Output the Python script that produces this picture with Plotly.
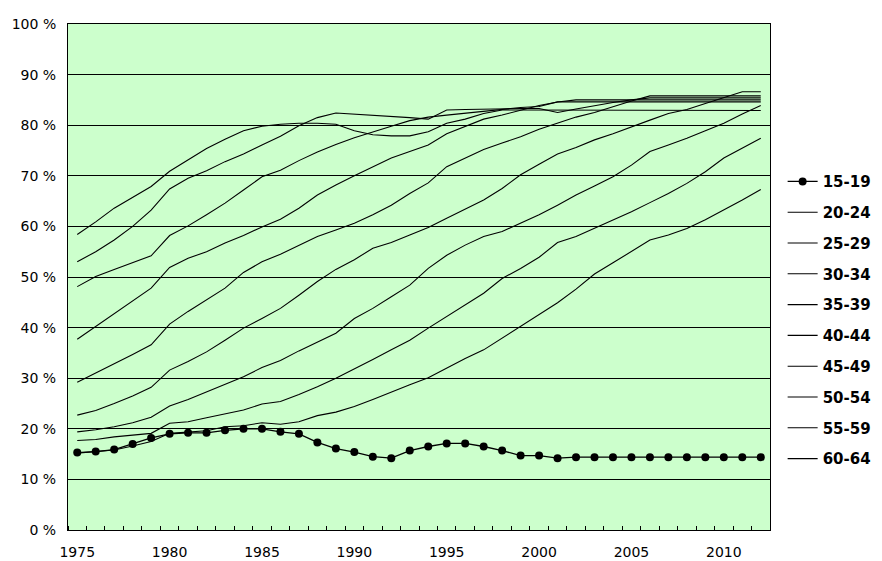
import plotly.graph_objects as go

years = list(range(1975, 2013))

s15_19 = [15.3, 15.5, 15.9, 17.0, 18.2, 19.0, 19.2, 19.2, 19.7, 20.0, 20.0, 19.4,
          19.0, 17.3, 16.1, 15.4, 14.5, 14.2, 15.7, 16.5, 17.1, 17.1, 16.5, 15.7,
          14.7, 14.7, 14.2, 14.4, 14.4, 14.4, 14.4, 14.4, 14.4, 14.4, 14.4, 14.4, 14.4, 14.4]
s20_24 = [58.4, 60.9, 63.6, 65.8, 67.9, 70.9, 73.1, 75.4, 77.2, 78.9, 79.8, 80.2,
          80.4, 80.4, 80.2, 78.9, 78.1, 77.9, 77.9, 78.7, 80.4, 81.2, 82.3, 83.0,
          83.0, 83.0, 82.9, 82.9, 82.9, 82.9, 82.9, 82.9, 82.9, 82.9, 82.9, 82.9, 82.9, 82.9]
s25_29 = [53.0, 55.0, 57.3, 60.0, 63.2, 67.4, 69.5, 71.0, 72.8, 74.3, 76.1, 77.8,
          79.9, 81.5, 82.4, 82.2, 82.0, 81.8, 81.5, 81.2, 83.0, 83.1, 83.2, 83.3,
          83.3, 83.3, 82.5, 83.2, 83.9, 84.5, 85.0, 85.4, 85.4, 85.4, 85.4, 85.4, 85.4, 85.4]
s30_34 = [48.1, 50.1, 51.5, 52.8, 54.2, 58.2, 60.1, 62.3, 64.6, 67.2, 69.8, 71.1,
          73.0, 74.7, 76.2, 77.5, 78.7, 79.8, 80.9, 81.6, 82.0, 82.4, 82.8, 83.2,
          83.5, 83.7, 84.6, 84.6, 84.6, 84.6, 84.6, 84.6, 84.6, 84.6, 84.6, 84.6, 84.6, 84.6]
s35_39 = [37.7, 40.2, 42.8, 45.3, 47.8, 51.9, 53.7, 55.0, 56.7, 58.2, 59.9, 61.4,
          63.6, 66.2, 68.2, 70.0, 71.8, 73.5, 74.8, 76.1, 78.3, 79.7, 81.2, 82.0,
          83.0, 83.9, 84.6, 85.0, 85.0, 85.0, 85.0, 85.0, 85.0, 85.0, 85.0, 85.0, 85.0, 85.0]
s40_44 = [29.2, 31.0, 32.9, 34.7, 36.6, 40.7, 43.2, 45.5, 47.8, 50.9, 53.0, 54.5,
          56.2, 58.0, 59.3, 60.6, 62.3, 64.2, 66.5, 68.6, 71.8, 73.5, 75.2, 76.5,
          77.7, 79.2, 80.4, 81.6, 82.5, 83.7, 84.8, 85.8, 85.8, 85.8, 85.8, 85.8, 85.8, 85.8]
s45_49 = [22.7, 23.6, 25.0, 26.5, 28.2, 31.6, 33.3, 35.2, 37.5, 39.9, 41.8, 43.8,
          46.4, 49.1, 51.5, 53.4, 55.7, 56.8, 58.3, 59.8, 61.6, 63.4, 65.2, 67.5,
          70.2, 72.3, 74.3, 75.6, 77.1, 78.3, 79.7, 81.0, 82.3, 83.1, 84.3, 85.5, 86.6, 86.6]
s50_54 = [19.4, 19.8, 20.4, 21.2, 22.3, 24.5, 25.8, 27.3, 28.7, 30.3, 32.1, 33.5,
          35.4, 37.2, 38.9, 41.8, 43.8, 46.1, 48.4, 51.7, 54.3, 56.3, 58.0, 59.0,
          60.6, 62.3, 64.2, 66.2, 68.0, 69.8, 72.1, 74.8, 76.1, 77.4, 78.9, 80.4, 82.2, 83.9]
s55_59 = [17.7, 17.9, 18.4, 18.8, 19.1, 21.1, 21.4, 22.2, 22.9, 23.7, 24.9, 25.4,
          26.8, 28.3, 30.0, 31.8, 33.7, 35.6, 37.5, 39.9, 42.2, 44.5, 46.8, 49.7,
          51.7, 53.9, 56.8, 58.0, 59.6, 61.3, 62.9, 64.7, 66.5, 68.5, 70.8, 73.5, 75.4, 77.4]
s60_64 = [15.2, 15.5, 15.8, 16.6, 17.5, 19.1, 19.4, 19.6, 20.4, 20.6, 21.2, 20.9,
          21.4, 22.6, 23.3, 24.4, 25.8, 27.3, 28.7, 30.1, 32.0, 33.9, 35.6, 37.9,
          40.3, 42.5, 44.9, 47.6, 50.6, 52.8, 55.0, 57.3, 58.3, 59.6, 61.3, 63.2, 65.2, 67.3]

series_names = ["15-19", "20-24", "25-29", "30-34", "35-39",
                "40-44", "45-49", "50-54", "55-59", "60-64"]
series_values = [s15_19, s20_24, s25_29, s30_34, s35_39,
                 s40_44, s45_49, s50_54, s55_59, s60_64]

y_tick_values = list(range(0, 101, 10))
y_tick_labels = [f"{v} %" for v in y_tick_values]
x_tick_values = [1975, 1980, 1985, 1990, 1995, 2000, 2005, 2010]

FONT = "DejaVu Sans, Arial, sans-serif"

fig = go.Figure()
for i, (name, vals) in enumerate(zip(series_names, series_values)):
    if i == 0:
        fig.add_trace(go.Scatter(
            x=years, y=vals, name=f"<b>{name}</b>", mode="lines+markers",
            line=dict(color="black", width=1.3),
            marker=dict(color="black", size=8, symbol="circle"),
            legendgroup=name,
        ))
    else:
        fig.add_trace(go.Scatter(
            x=years, y=vals, name=f"<b>{name}</b>", mode="lines",
            line=dict(color="black", width=1.1),
            legendgroup=name,
        ))

# The page places the figure 8px from the top-left corner (default body margin),
# so the figure is 874x553 and its margins are set to land the plot area at the
# reference position.
fig.update_layout(
    width=874, height=553,
    margin=dict(l=60, r=112, t=16, b=31, autoexpand=False),
    paper_bgcolor="white",
    plot_bgcolor="#CCFFCC",
    font=dict(family=FONT, size=14, color="black"),
    showlegend=True,
    legend=dict(
        x=1.018, xanchor="left", y=0.721, yanchor="top",
        font=dict(family=FONT, size=15, color="black"),
        tracegroupgap=8.3,
        bgcolor="rgba(0,0,0,0)",
    ),
)

fig.update_xaxes(
    range=[1974.5, 2012.5], automargin=False,
    tickmode="array", tickvals=x_tick_values,
    ticks="", showgrid=False, zeroline=False,
    showline=True, linecolor="black", linewidth=1, mirror=True,
    ticklabelstandoff=9,
    tickfont=dict(family=FONT, size=14),
    minor=dict(ticks="inside", tick0=1974.5, dtick=1, ticklen=4,
               tickcolor="black", tickwidth=1, showgrid=False),
)
fig.update_yaxes(
    range=[0, 100], automargin=False,
    tickmode="array", tickvals=y_tick_values, ticktext=y_tick_labels,
    ticks="", showgrid=True, gridcolor="black", gridwidth=1, zeroline=False,
    showline=True, linecolor="black", linewidth=1, mirror=True,
    ticklabelstandoff=8,
    tickfont=dict(family=FONT, size=14),
)

fig.write_html("out.html")
